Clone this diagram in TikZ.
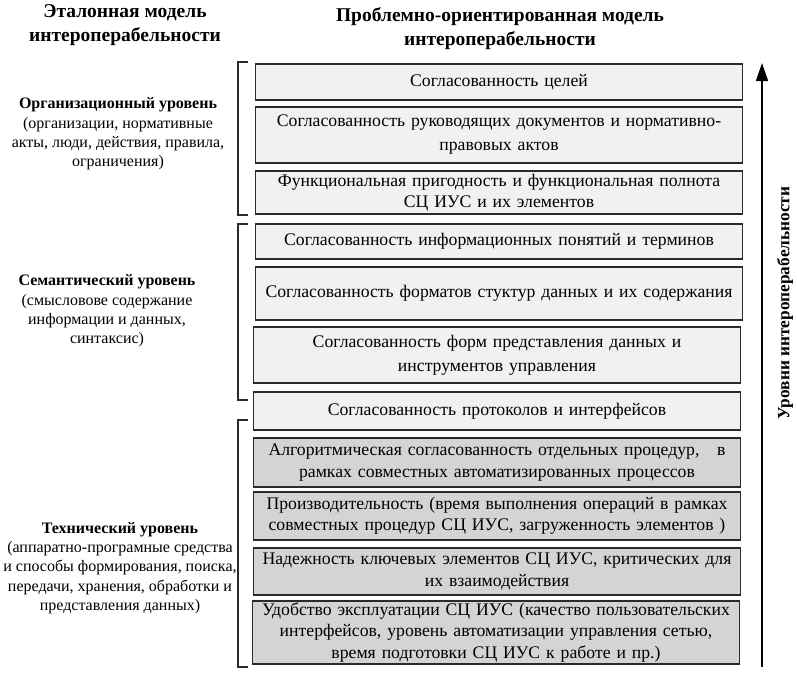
\documentclass[tikz,border=0pt]{standalone}
\usepackage{fontspec}
\setmainfont{Liberation Serif}
\usetikzlibrary{arrows.meta}
\definecolor{lightfill}{HTML}{F1F1F1}
\definecolor{darkfill}{HTML}{D4D4D4}
\definecolor{edge}{HTML}{2A2A2A}
\begin{document}
\begin{tikzpicture}[x=1pt,y=-1pt,
  box/.style={draw=edge, line width=1.2pt, fill=lightfill, minimum width=487pt, inner sep=0pt,
    align=center, text width=484pt, font=\fontsize{17.7}{21.5}\selectfont},
  grayfill/.style={fill=darkfill},
  title/.style={align=center, font=\bfseries\fontsize{19.5}{24}\selectfont},
  side/.style={align=center, font=\fontsize{16}{19.3}\selectfont},
  brk/.style={draw=edge, line width=1.2pt}
]
\useasboundingbox (0,0) rectangle (797,678);

% titles
\node[title] (tl) at (125,25) {Эталонная модель\\интероперабельности};
\node[title] (tr) at (500,29) {Проблемно-ориентированная модель\\интероперабельности};

% left descriptions
\node[side] (org) at (118,134) {\textbf{Организационный уровень}\\(организации, нормативные\\акты, люди, действия, правила,\\ограничения)};
\node[side] (sem) at (107,311) {\textbf{Семантический уровень}\\(смысловове содержание\\информации и данных,\\синтаксис)};
\node[side] (tech) at (120,568) {\textbf{Технический уровень}\\(аппаратно-програмные средства\\и способы формирования, поиска,\\передачи, хранения, обработки и\\представления данных)};

% boxes
\node[box, minimum height=36pt] (b1) at (499,82) {Согласованность целей};
\node[box, minimum height=56pt, font=\fontsize{17.7}{24}\selectfont] (b2) at (499,135) {Согласованность руководящих документов и нормативно-\\правовых актов};
\node[box, minimum height=43pt] (b3) at (499,192.5) {Функциональная пригодность и функциональная полнота\\СЦ ИУС и их элементов};
\node[box, minimum height=35pt] (b4) at (499,241.5) {Согласованность информационных понятий и терминов};
\node[box, minimum height=53pt] (b5) at (499,293.5) {Согласованность форматов стуктур данных и их содержания};
\node[box, minimum height=56pt, font=\fontsize{17.7}{24}\selectfont] (b6) at (497,355) {Согласованность форм представления данных и\\инструментов управления};
\node[box, minimum height=38pt] (b7) at (497,411) {Согласованность протоколов и интерфейсов};
\node[box, grayfill, minimum height=49pt] (b8) at (497,462.5) {Алгоритмическая согласованность отдельных процедур, \ \ в\\рамках совместных автоматизированных процессов};
\node[box, grayfill, minimum height=48pt] (b9) at (497,516) {Производительность (время выполнения операций в рамках\\совместных процедур СЦ ИУС, загруженность элементов )};
\node[box, grayfill, minimum height=47pt] (b10) at (497,571.5) {Надежность ключевых элементов СЦ ИУС, критических для\\их взаимодействия};
\node[box, grayfill, minimum height=63pt] (b11) at (496,632.5) {Удобство эксплуатации СЦ ИУС (качество пользовательских\\интерфейсов, уровень автоматизации управления сетью,\\время подготовки СЦ ИУС к работе и пр.)};

% brackets
\draw[brk] (248,62) -| (238,215) -- (248,215);
\draw[brk] (248,224) -| (238,400) -- (248,400);
\draw[brk] (248,420) -| (238,667) -- (248,667);

% arrow
\coordinate (ab) at (762,667);
\coordinate (at) at (762,63);
\draw[line width=1.5pt, -{Triangle[length=18pt,width=12pt]}] (ab) -- (at);
\node[rotate=90, font=\bfseries\fontsize{17.3}{20}\selectfont] (lvl) at (785,303) {Уровни интероперабельности};
\end{tikzpicture}
\end{document}
